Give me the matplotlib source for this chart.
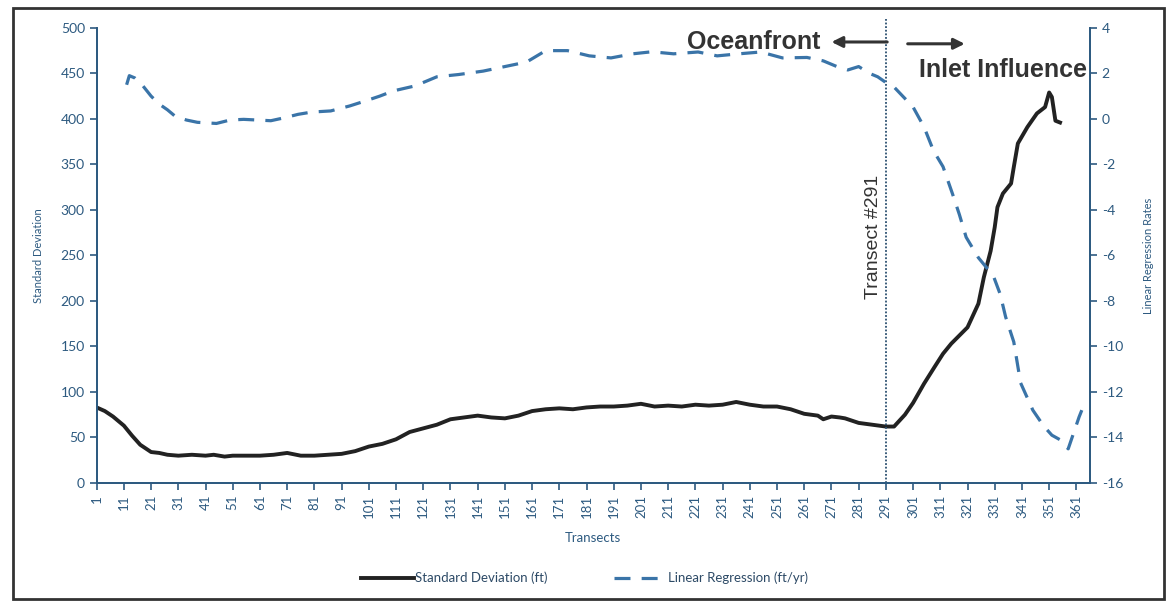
import matplotlib
matplotlib.use("Agg")
import matplotlib.pyplot as plt
import matplotlib.transforms as mtransforms
from matplotlib.patches import Rectangle

# standard deviation (ft)
std_x = [1, 4, 7, 11, 14, 17, 21, 24, 27, 31, 36, 41, 44, 48, 51, 56, 61, 66, 71, 76,
         81, 86, 91, 96, 101, 106, 111, 116, 121, 126, 131, 136, 141, 146, 151, 156,
         161, 166, 171, 176, 181, 186, 191, 196, 201, 206, 211, 216, 221, 226, 231,
         236, 241, 246, 251, 256, 261, 266, 268, 271, 274, 276, 281, 286, 291, 294,
         298, 301, 305, 309, 312, 315, 318, 321, 325, 327, 329.5, 331, 332, 334, 337,
         338, 339.5, 343, 346.5, 349.5, 351, 352, 353.3, 355]
std_y = [83, 79, 73, 63, 52, 42, 34, 33, 31, 30, 31, 30, 31, 29, 30, 30, 30, 31, 33, 30,
         30, 31, 32, 35, 40, 43, 48, 56, 60, 64, 70, 72, 74, 72, 71, 74,
         79, 81, 82, 81, 83, 84, 84, 85, 87, 84, 85, 84, 86, 85, 86,
         89, 86, 84, 84, 81, 76, 74, 70, 73, 72, 71, 66, 64, 62, 62,
         75, 88, 109, 128, 142, 153, 162, 171, 197, 226, 255, 281, 303, 318, 329,
         347, 373, 391, 406, 413, 429, 424, 398, 396]

# linear regression rates (ft/yr)
lr_x = [12, 13, 15, 18, 21, 24, 27, 30, 34, 38, 45, 50, 55, 60, 65, 70, 75, 80, 87, 94,
        100, 105, 110, 118, 126, 134, 143, 151, 159, 166, 174, 182, 190, 198, 205, 213,
        222, 229, 237, 245, 253, 262, 268, 273, 277, 281, 285, 288, 291, 294, 301, 305,
        308.5, 312, 315.5, 318, 320.5, 325, 330.5, 333, 335, 338, 340.5, 345, 349, 352,
        355, 358, 360, 362, 363]
lr_y = [1.5, 1.9, 1.8, 1.45, 1.0, 0.65, 0.4, 0.1, -0.05, -0.15, -0.2, -0.05, -0.02, -0.05,
        -0.08, 0.05, 0.2, 0.3, 0.35, 0.57, 0.8, 1.0, 1.23, 1.45, 1.85, 1.95, 2.1, 2.3, 2.5,
        3.0, 3.0, 2.77, 2.68, 2.86, 2.95, 2.86, 2.94, 2.77, 2.86, 2.94, 2.68, 2.7, 2.55,
        2.3, 2.15, 2.3, 2.0, 1.85, 1.6, 1.4, 0.52, -0.35, -1.4, -2.1, -3.3, -4.2, -5.2,
        -6.1, -6.9, -7.7, -8.7, -9.8, -11.6, -12.8, -13.5, -13.9, -14.1, -14.5, -13.8,
        -13.1, -12.8]

xticks = list(range(1, 362, 10))

axis_col = "#2d5a80"
plt.rcParams["font.family"] = ["Lato", "DejaVu Sans"]
plt.rcParams["axes.unicode_minus"] = False

fig = plt.figure(figsize=(11.69, 6.06), dpi=100)
ax = fig.add_axes([0.0827, 0.203, 0.8497, 0.751])
ax2 = ax.twinx()

l1, = ax.plot(std_x, std_y, color="#222222", lw=2.8, label="Standard Deviation (ft)")
l2, = ax2.plot(lr_x, lr_y, color="#3a74a8", lw=2.3, dashes=(5, 3.5),
               label="Linear Regression (ft/yr)")

ax.set_xlim(1, 366)
ax.set_ylim(0, 500)
ax.set_yticks(range(0, 501, 50))
ax2.set_ylim(-16, 4)
ax2.set_yticks(range(-16, 5, 2))
ax.set_xticks(xticks)
ax.set_xticklabels([str(t) for t in xticks], rotation=90)

for a in (ax, ax2):
    for s in a.spines.values():
        s.set_color(axis_col)
        s.set_linewidth(1.3)
    a.spines["top"].set_visible(False)
    a.tick_params(colors=axis_col, labelsize=10, length=5, width=1.2, direction="out")
ax.tick_params(axis="x", labelsize=9.5)

ax.set_ylabel("Standard Deviation", fontsize=8, color=axis_col, labelpad=12)
ax2.set_ylabel("Linear Regression Rates", fontsize=8, color=axis_col, labelpad=14)
ax.set_xlabel("Transects", fontsize=9.5, color=axis_col, labelpad=10)

# transect 291 divider
ax.axvline(291, ymin=0, ymax=1.02, color="#2b4f70", lw=1.3, ls=(0, (1, 1)), clip_on=False)
trans = mtransforms.blended_transform_factory(ax.transData, ax.transAxes)
ax.text(289.5, 0.54, "Transect #291", rotation=90, ha="right", va="center",
        transform=trans, fontsize=14, color="#333333", family="Liberation Sans")

bold = dict(fontsize=18, fontweight="bold", color="#333333", family="Liberation Sans")
ax.text(267, 0.969, "Oceanfront", ha="right", va="center", transform=trans, **bold)
ax.text(334, 0.908, "Inlet Influence", ha="center", va="center", transform=trans, **bold)
arrow = dict(arrowstyle="-|>", lw=2.2, color="#333333", mutation_scale=16)
ax.annotate("", xy=(270, 0.969), xytext=(292.5, 0.969), xycoords=trans,
            textcoords=trans, arrowprops=arrow, annotation_clip=False)
ax.annotate("", xy=(321, 0.965), xytext=(298, 0.965), xycoords=trans,
            textcoords=trans, arrowprops=arrow, annotation_clip=False)

leg = fig.legend(handles=[l1, l2], loc="center", bbox_to_anchor=(0.5, 0.046), ncol=2,
                 frameon=False, fontsize=9.5, handlelength=4, columnspacing=5,
                 handletextpad=0.1)
for t in leg.get_texts():
    t.set_color("#2d4a66")

fig.patches.append(Rectangle((0.011, 0.012), 0.985, 0.975, transform=fig.transFigure,
                             fill=False, lw=2, edgecolor="#333333"))

fig.savefig("out.png", dpi=100)
